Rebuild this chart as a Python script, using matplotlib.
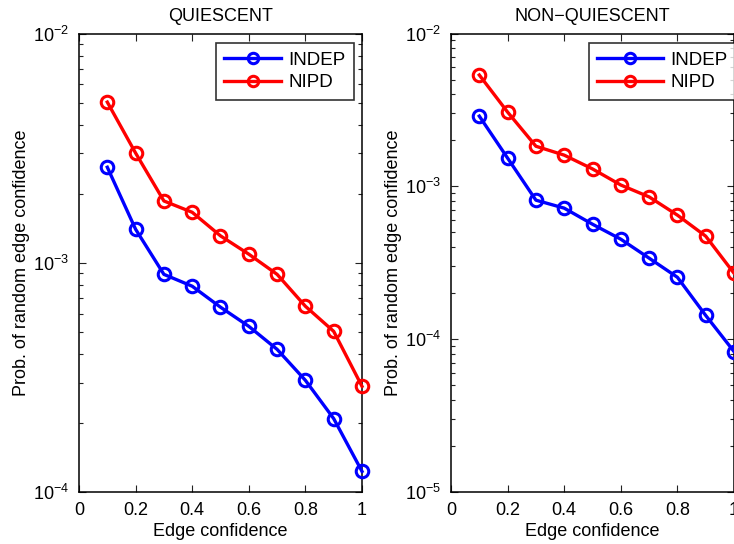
import matplotlib
matplotlib.use("Agg")
import matplotlib.pyplot as plt
from matplotlib.ticker import LogLocator, FixedLocator, FixedFormatter, NullFormatter

plt.rcParams['font.family'] = ['Liberation Sans', 'DejaVu Sans']
plt.rcParams['mathtext.fontset'] = 'custom'
plt.rcParams['mathtext.rm'] = 'Liberation Sans'
plt.rcParams['mathtext.it'] = 'Liberation Sans'
plt.rcParams['mathtext.default'] = 'regular'

edge_conf = [0.1, 0.2, 0.3, 0.4, 0.5, 0.6, 0.7, 0.8, 0.9, 1.0]

q_indep = [2.61e-3, 1.40e-3, 8.9e-4, 7.9e-4, 6.4e-4, 5.28e-4, 4.19e-4, 3.07e-4, 2.09e-4, 1.23e-4]
q_nipd = [5.02e-3, 3.01e-3, 1.86e-3, 1.66e-3, 1.31e-3, 1.09e-3, 8.9e-4, 6.46e-4, 5.02e-4, 2.89e-4]

nq_indep = [2.88e-3, 1.53e-3, 8.12e-4, 7.2e-4, 5.65e-4, 4.51e-4, 3.39e-4, 2.54e-4, 1.43e-4, 8.3e-5]
nq_nipd = [5.35e-3, 3.06e-3, 1.83e-3, 1.60e-3, 1.30e-3, 1.02e-3, 8.53e-4, 6.48e-4, 4.72e-4, 2.70e-4]

titles = ['QUIESCENT', 'NON\u2212QUIESCENT']
series_names = ['INDEP', 'NIPD']
xticks = [0, 0.2, 0.4, 0.6, 0.8, 1]
xticklabels = ['0', '0.2', '0.4', '0.6', '0.8', '1']

W, H = 734, 544
fig = plt.figure(figsize=(W / 100, H / 100), dpi=100)

panels = [
    dict(rect=[79, 33.5, 283, 458.5], ylim=(1e-4, 1e-2), indep=q_indep, nipd=q_nipd,
         yt=[1e-4, 1e-3, 1e-2], ytl=['$10^{-4}$', '$10^{-3}$', '$10^{-2}$'],
         leg=(216, 43), hl=3.0),
    dict(rect=[451, 33.5, 283, 458.5], ylim=(1e-5, 1e-2), indep=nq_indep, nipd=nq_nipd,
         yt=[1e-5, 1e-4, 1e-3, 1e-2], ytl=['$10^{-5}$', '$10^{-4}$', '$10^{-3}$', '$10^{-2}$'],
         leg=(589, 43), hl=3.5),
]

fs = 13
for i, p in enumerate(panels):
    x0, y0, w, h = p['rect']
    ax = fig.add_axes([x0 / W, 1 - (y0 + h) / H, w / W, h / H])
    l1, = ax.plot(edge_conf, p['indep'], '-o', color='#0000ff', lw=2.4, ms=9.0, mew=2.2,
                  mfc='none', mec='#0000ff', label=series_names[0], clip_on=False, zorder=3)
    l2, = ax.plot(edge_conf, p['nipd'], '-o', color='#ff0000', lw=2.4, ms=9.0, mew=2.2,
                  mfc='none', mec='#ff0000', label=series_names[1], clip_on=False, zorder=3)
    ax.set_yscale('log')
    ax.set_xlim(0, 1)
    ax.set_ylim(*p['ylim'])
    ax.xaxis.set_major_locator(FixedLocator(xticks))
    ax.xaxis.set_major_formatter(FixedFormatter(xticklabels))
    ax.yaxis.set_major_locator(FixedLocator(p['yt']))
    ax.yaxis.set_major_formatter(FixedFormatter(p['ytl']))
    ax.yaxis.set_minor_locator(LogLocator(base=10, subs=range(2, 10)))
    ax.yaxis.set_minor_formatter(NullFormatter())
    ax.tick_params(which='both', direction='in', top=True, right=True, labelsize=fs, width=0.8,
                   color='#222222')
    ax.tick_params(which='major', length=5, pad=7)
    ax.tick_params(which='minor', length=3)
    for s in ax.spines.values():
        s.set_linewidth(1.1)
    ax.set_xlabel('Edge confidence', fontsize=fs, labelpad=3)
    ax.set_ylabel('Prob. of random edge confidence', fontsize=fs, labelpad=2)
    ax.set_title(titles[i], fontsize=fs, pad=9)
    lx, ly = p['leg']
    leg = fig.legend(handles=[l1, l2], loc='upper left',
                     bbox_to_anchor=(lx / W, 1 - ly / H), fontsize=13.5,
                     frameon=True, fancybox=False, handlelength=p['hl'], handletextpad=0.4,
                     borderpad=0.45, labelspacing=0.3, borderaxespad=0)
    leg.get_frame().set_edgecolor('black')
    leg.get_frame().set_linewidth(1.2)
    for ln in leg.get_lines():
        ln.set_markersize(7.5)

fig.savefig('out.png', dpi=100)
